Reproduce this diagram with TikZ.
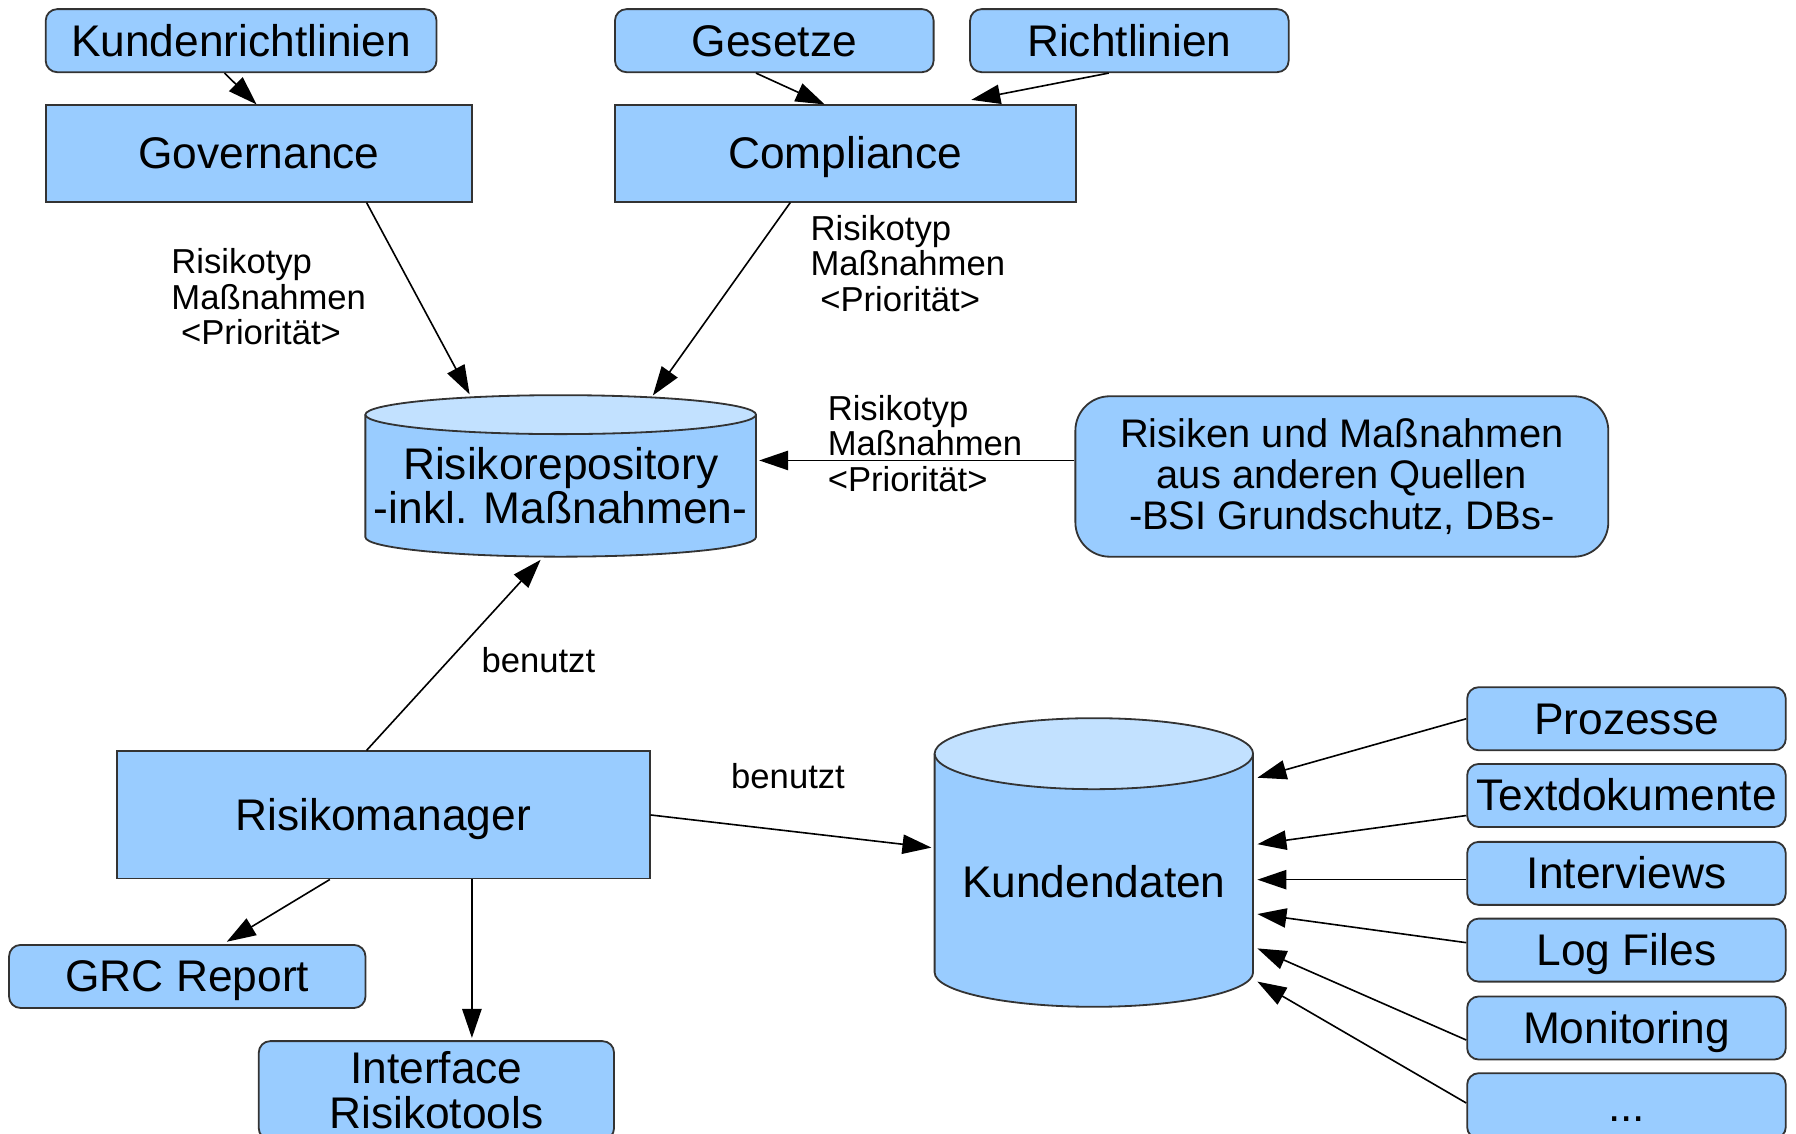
\documentclass[tikz,border=0pt]{standalone}
\usepackage{fontspec}
\setmainfont{Liberation Sans}
\usetikzlibrary{arrows.meta,calc}
\definecolor{boxblue}{HTML}{99CCFF}
\definecolor{topblue}{HTML}{C2E1FF}
\definecolor{edgecol}{HTML}{333333}
\begin{document}
\begin{tikzpicture}[x=0.01cm,y=0.01cm,
  box/.style={draw=edgecol, fill=boxblue, line width=0.45pt, inner sep=0pt, align=center,
    font=\fontsize{11pt}{11.1pt}\selectfont},
  oneline/.style={text height=9.9pt, text depth=2.2pt},
  rbox/.style={box, rounded corners=0.1cm},
  sqbox/.style={box},
  lbl/.style={inner sep=0pt, align=left, anchor=west, font=\fontsize{8.6pt}{8.8pt}\selectfont},
  smalllbl/.style={inner sep=0pt, font=\fontsize{8.6pt}{8.8pt}\selectfont},
  cylbody/.style={draw=edgecol, fill=boxblue, line width=0.45pt},
  cyltop/.style={draw=edgecol, fill=topblue, line width=0.45pt},
  conn/.style={draw=black, line width=0.4pt, -{Triangle[length=7.2pt,width=4.8pt]}}
]
\useasboundingbox (0,0) rectangle (1568,990);

% top row
\node[rbox, oneline, minimum width=3.41cm, minimum height=0.55cm] (kr) at (210.5,954.5) {Kundenrichtlinien};
\node[rbox, oneline, minimum width=2.78cm, minimum height=0.55cm] (ges) at (676,954.5) {Gesetze};
\node[rbox, oneline, minimum width=2.78cm, minimum height=0.55cm] (rl) at (986,954.5) {Richtlinien};
\node[sqbox, oneline, minimum width=3.72cm, minimum height=0.84cm] (gov) at (226,856) {Governance};
\node[sqbox, oneline, minimum width=4.02cm, minimum height=0.84cm] (comp) at (738,856) {Compliance};

% Risikorepository cylinder
\path[cylbody] (319,628) -- (319,521) arc[start angle=180, end angle=360, x radius=170.5, y radius=17] -- (660,628);
\path[cyltop] (489.5,628) ellipse [x radius=170.5, y radius=17];
\node[inner sep=0pt, align=center, minimum width=3.41cm, minimum height=1.24cm,
  font=\fontsize{11pt}{10.8pt}\selectfont] (repo) at (489.5,566) {Risikorepository\\-inkl. Maßnahmen-};

% other sources
\node[box, rounded corners=0.3cm, minimum width=4.65cm, minimum height=1.40cm,
  font=\fontsize{9.9pt}{10.1pt}\selectfont] (src) at (1171.5,574)
  {Risiken und Maßnahmen\\aus anderen Quellen\\-BSI Grundschutz, DBs-};

% Risikomanager and outputs
\node[sqbox, oneline, minimum width=4.65cm, minimum height=1.11cm] (rm) at (334.5,278.5) {Risikomanager};
\node[rbox, oneline, minimum width=3.11cm, minimum height=0.55cm] (grc) at (163.5,137.5) {GRC Report};
\node[rbox, minimum width=3.10cm, minimum height=0.86cm] (iface) at (381,38) {Interface\\Risikotools};

% Kundendaten cylinder
\path[cylbody] (816,332) -- (816,141) arc[start angle=180, end angle=360, x radius=139, y radius=30] -- (1094,332);
\path[cyltop] (955,332) ellipse [x radius=139, y radius=31];
\node[inner sep=0pt, oneline, minimum width=2.78cm, minimum height=2.2cm,
  font=\fontsize{11pt}{11pt}\selectfont] (kd) at (955,220) {Kundendaten};

% data sources
\node[rbox, oneline, minimum width=2.78cm, minimum height=0.55cm] (p1) at (1420,362.5) {Prozesse};
\node[rbox, oneline, minimum width=2.78cm, minimum height=0.55cm] (p2) at (1420,295.5) {Textdokumente};
\node[rbox, oneline, minimum width=2.78cm, minimum height=0.55cm] (p3) at (1420,227.5) {Interviews};
\node[rbox, oneline, minimum width=2.78cm, minimum height=0.55cm] (p4) at (1420,160.5) {Log Files};
\node[rbox, oneline, minimum width=2.78cm, minimum height=0.55cm] (p5) at (1420,92.5) {Monitoring};
\node[rbox, oneline, minimum width=2.78cm, minimum height=0.57cm] (p6) at (1420,24.5) {...};

% labels
\node[lbl] (lg) at (149,731) {Risikotyp\\Maßnahmen\\\hspace*{2.4pt}<Priorität>};
\node[lbl] (lc) at (707,760) {Risikotyp\\Maßnahmen\\\hspace*{2.4pt}<Priorität>};
\node[lbl] (ls) at (722,603) {Risikotyp\\Maßnahmen\\<Priorität>};
\node[smalllbl] (lb1) at (470,414) {benutzt};
\node[smalllbl] (lb2) at (688,312) {benutzt};

% connectors
\draw[conn] ($(kr.south)+(-14.5,0)$) -- ($(gov.north)+(-2,0)$);
\draw[conn] ($(ges.south)+(-16,0)$) -- ($(comp.north)+(-18,0)$);
\draw[conn] ($(rl.south)+(-18,0)$) -- ($(comp.north)+(110,4)$);
\draw[conn] ($(gov.south)+(94,0)$) -- ($(repo.north)+(-79.5,17)$);
\draw[conn] ($(comp.south)+(-48,0)$) -- ($(repo.north)+(80.5,16)$);
\draw[conn] ($(src.west)+(0,14)$) -- ($(repo.east)+(2,22)$);
\draw[conn] ($(rm.north)+(-14.5,0)$) -- ($(repo.south)+(-17.5,-2)$);
\draw[conn] (rm.east) -- ($(kd.west)+(-2,30)$);
\draw[conn] ($(rm.south)+(-46.5,0)$) -- ($(grc.north)+(34.5,2)$);
\draw[conn] ($(rm.south)+(77.5,0)$) -- ($(iface.north)+(31,2)$);
\draw[conn] (p1.west) -- ($(kd.east)+(3,91)$);
\draw[conn] ($(p2.west)+(0,-17.5)$) -- ($(kd.east)+(3,33)$);
\draw[conn] ($(p3.west)+(0,-5.5)$) -- ($(kd.east)+(3,2)$);
\draw[conn] ($(p4.west)+(0,6.5)$) -- ($(kd.east)+(3,-28)$);
\draw[conn] ($(p5.west)+(0,-10.5)$) -- ($(kd.east)+(3,-58)$);
\draw[conn] ($(p6.west)+(0,2.5)$) -- ($(kd.east)+(3,-87)$);
\end{tikzpicture}
\end{document}
